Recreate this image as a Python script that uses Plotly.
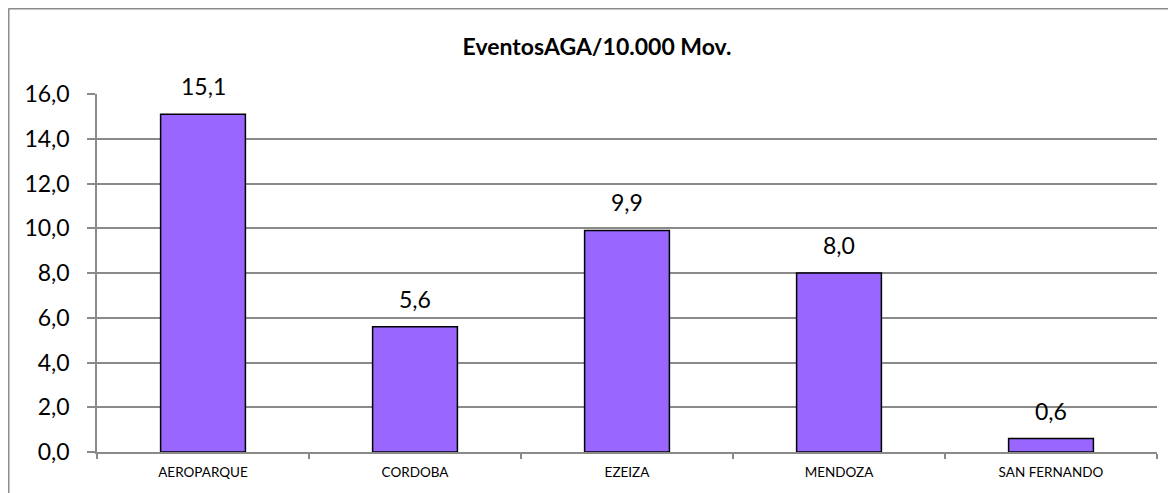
import plotly.graph_objects as go

categories = ["AEROPARQUE", "CORDOBA", "EZEIZA", "MENDOZA", "SAN FERNANDO"]
values = [15.1, 5.6, 9.9, 8.0, 0.6]
title_text = "EventosAGA/10.000 Mov."

OFF = 8  # page body offset
W, H = 1176 - OFF, 493 - OFF
ml, mr, mt, mb = 97 - OFF, 19, 94 - OFF, 41
pw, ph = W - ml - mr, H - mt - mb

fig = go.Figure(go.Bar(
    x=categories, y=values,
    marker=dict(color="#9966FF", line=dict(color="black", width=1.5)),
    hoverinfo="x+y",
))

for c, v in zip(categories, values):
    fig.add_annotation(x=c, y=v, text=f"{v:.1f}".replace(".", ","), showarrow=False,
                       yanchor="bottom", yshift=12,
                       font=dict(size=23, family="Lato", color="black"))

gray = "#8a8a8a"
fig.update_layout(
    width=W, height=H,
    margin=dict(l=ml, r=mr, t=mt, b=mb),
    paper_bgcolor="white", plot_bgcolor="white",
    separators=",.",
    bargap=0.6,
    showlegend=False,
    font=dict(family="Lato", color="black"),
    title=dict(text="<b>" + title_text + "</b>", x=(597 - OFF) / W, xref="container", xanchor="center",
               y=1 - (47 - OFF) / H, yref="container", yanchor="middle",
               font=dict(size=23, family="Lato", color="black")),
    xaxis=dict(showline=True, linecolor=gray, linewidth=1.5, ticks="outside", tickson="boundaries",
               ticklen=5, tickcolor=gray, tickwidth=1.5, tickfont=dict(size=13.5, family="Lato"),
               ticklabelstandoff=7, showgrid=False),
    yaxis=dict(range=[0, 16], dtick=2, tickformat=".1f", showline=True, linecolor=gray, linewidth=1.5,
               ticks="outside", ticklen=8, tickcolor=gray, tickwidth=1.5,
               gridcolor=gray, gridwidth=1.5, zeroline=False, ticklabelstandoff=13,
               tickfont=dict(size=23, family="Lato")),
)

# outer chart border (left and top edges visible)
bx = (0.5 - ml) / pw
by = (H - mb - 0.5) / ph
fig.add_shape(type="line", xref="paper", yref="paper", x0=bx, x1=bx, y0=-0.5, y1=by,
              line=dict(color="#8c8c8c", width=2))
fig.add_shape(type="line", xref="paper", yref="paper", x0=bx, x1=1.5, y0=by, y1=by,
              line=dict(color="#8c8c8c", width=2))

fig.write_html("out.html")
